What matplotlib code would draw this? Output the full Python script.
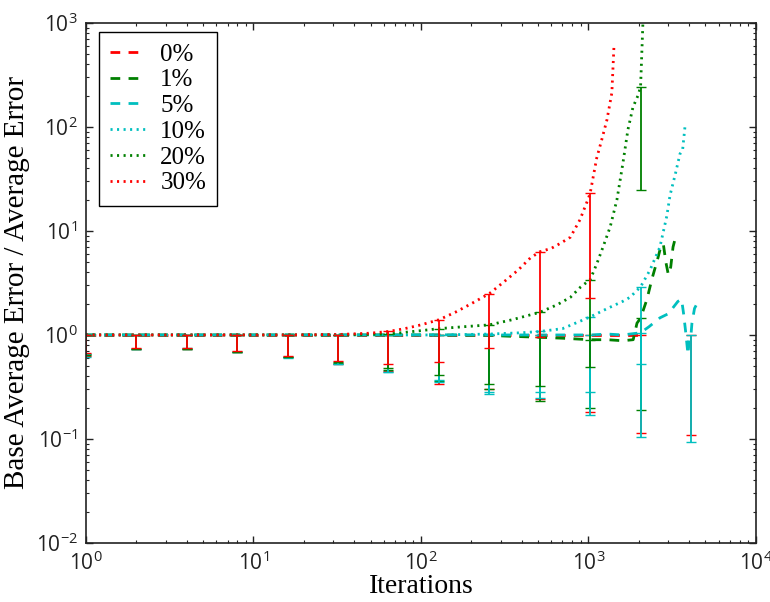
import matplotlib
matplotlib.use("Agg")
import matplotlib.pyplot as plt
from matplotlib.ticker import LogLocator, LogFormatterSciNotation, NullFormatter

plt.rcParams["font.family"] = ["Open Sans", "DejaVu Sans"]
plt.rcParams["lines.scale_dashes"] = False

# ---- data: ratio of base average error to average error, per noise level ----
labels = ["0%", "1%", "5%", "10%", "20%", "30%"]
colors = ["r", "g", "c", "c", "g", "r"]
styles = ["dashed", "dashed", "dashed", "dotted", "dotted", "dotted"]

iters_0 = [1, 2, 4, 8, 16, 32, 64, 128, 256, 512, 1024, 2048]
ratio_0 = [1, 1, 1, 1, 1, 1, 1, 1, 1, 1, 1, 1]

iters_1 = [1, 2, 4, 8, 16, 32, 64, 128, 256, 350, 512, 700, 1024, 1300, 1600,
           1850, 1950, 2048, 2235, 2400, 2600, 2700, 2800, 2900, 3000, 3100, 3200, 3300]
ratio_1 = [1, 1, 1, 1, 1, 1, 1, 1.0, 0.99, 0.97, 0.95, 0.93, 0.9, 0.9, 0.88,
           0.9, 1.3, 1.45, 2.2, 3.5, 5.5, 7.0, 7.5, 5.0, 3.8, 4.5, 7.0, 8.5]

iters_5 = [1, 2, 4, 8, 16, 32, 64, 128, 256, 512, 700, 1024, 1300, 1600, 2048,
           2300, 2672, 3000, 3420, 3600, 3700, 3800, 3930, 4000, 4096, 4150, 4300, 4450]
ratio_5 = [1, 1, 1, 1, 1, 1, 1, 1, 1, 1.0, 1.0, 1.0, 1.02, 1.0, 1.05,
           1.2, 1.46, 1.6, 2.1, 2.2, 1.6, 1.1, 0.65, 0.9, 1.0, 1.3, 1.8, 2.0]

iters_10 = [1, 2, 4, 8, 16, 32, 64, 128, 256, 400, 512, 700, 1024, 1300, 1600,
            1770, 2048, 2330, 2672, 2940, 3070, 3300, 3520, 3650, 3770]
ratio_10 = [1, 1, 1, 1, 1, 1, 1, 1.0, 1.02, 1.05, 1.08, 1.15, 1.49, 1.8, 2.1,
            2.3, 2.9, 4.2, 7.0, 14, 22, 35, 55, 60, 100]

iters_20 = [1, 2, 4, 8, 16, 32, 64, 100, 128, 180, 256, 350, 512, 650, 780, 900,
            1024, 1120, 1222, 1350, 1480, 1607, 1721, 1845, 1976, 2048, 2115]
ratio_20 = [1, 1, 1, 1, 1, 1, 1.02, 1.1, 1.15, 1.2, 1.25, 1.4, 1.65, 1.95, 2.3, 2.9,
            3.4, 4.8, 7.0, 11, 20, 45, 94, 155, 200, 243, 1000]

iters_30 = [1, 2, 4, 8, 16, 32, 50, 64, 80, 100, 128, 160, 200, 256, 310, 380, 450,
            512, 600, 680, 780, 890, 990, 1024, 1120, 1200, 1290, 1380, 1420]
ratio_30 = [1, 1, 1, 1, 1, 1.01, 1.04, 1.08, 1.15, 1.25, 1.4, 1.65, 2.0, 2.5, 3.2, 4.2, 5.5,
            6.3, 6.8, 7.6, 8.7, 12.8, 19.8, 23, 50, 75, 117, 213, 590]

# lower ends of the spread, sampled at iterations 1, 2, 4, 8, ...
low_0 = [0.63, 0.73, 0.74, 0.68, 0.61, 0.53, 0.45, 0.34, 0.30, 0.24, 0.18, 0.114, 0.11]
low_1 = [0.65, 0.74, 0.74, 0.69, 0.62, 0.54, 0.46, 0.36, 0.30, 0.23, 0.20, 0.19]
low_5 = [0.66, 0.74, 0.75, 0.69, 0.61, 0.52, 0.44, 0.35, 0.27, 0.25, 0.17, 0.105, 0.094]
low_10 = [0.62, 0.73, 0.74, 0.68, 0.60, 0.52, 0.44, 0.37, 0.28, 0.28, 0.28, 0.53]
low_20 = [0.64, 0.74, 0.74, 0.68, 0.62, 0.55, 0.48, 0.41, 0.34, 0.32, 0.49, 25]
low_30 = [0.67, 0.75, 0.75, 0.70, 0.63, 0.56, 0.53, 0.55, 0.75, 0.96, 2.27]

series = [
    (iters_0, ratio_0, low_0),
    (iters_1, ratio_1, low_1),
    (iters_5, ratio_5, low_5),
    (iters_10, ratio_10, low_10),
    (iters_20, ratio_20, low_20),
    (iters_30, ratio_30, low_30),
]

dash_patterns = {"dashed": (0, (7, 6)), "dotted": (0, (1.5, 3.2))}

fig = plt.figure(figsize=(7.7, 6.02), dpi=100)
ax = fig.add_axes([0.1117, 0.098, 0.870, 0.864])

for (xs, ys, lows), lab, col, sty in zip(series, labels, colors, styles):
    ax.plot(xs, ys, color=col, linestyle=dash_patterns[sty], linewidth=2, label=lab)

for (xs, ys, lows), col in zip(series, colors):
    ex = [2 ** k for k in range(len(lows))]
    # spread bars hang below the curve; the 0% run keeps its level past the plotted line
    ey = [ys[xs.index(v)] if v in xs else ys[-1] for v in ex]
    below = [y - lo for y, lo in zip(ey, lows)]
    ax.errorbar(ex, ey, yerr=[below, [0] * len(ex)], fmt="none", ecolor=col,
                elinewidth=1.3, capsize=3.8, capthick=1.0)

ax.set_xscale("log")
ax.set_yscale("log")
ax.set_xlim(1, 1e4)
ax.set_ylim(1e-2, 1e3)

ax.xaxis.set_major_locator(LogLocator(base=10, numticks=10))
ax.yaxis.set_major_locator(LogLocator(base=10, numticks=10))
ax.xaxis.set_minor_locator(LogLocator(base=10, subs=range(2, 10), numticks=50))
ax.yaxis.set_minor_locator(LogLocator(base=10, subs=range(2, 10), numticks=50))
ax.xaxis.set_major_formatter(LogFormatterSciNotation())
ax.yaxis.set_major_formatter(LogFormatterSciNotation())
ax.xaxis.set_minor_formatter(NullFormatter())
ax.yaxis.set_minor_formatter(NullFormatter())

ax.tick_params(which="both", direction="in", top=True, right=True, colors="#222222")
ax.tick_params(which="major", length=5, width=1, labelsize=15)
ax.tick_params(axis="x", which="major", pad=6)
ax.tick_params(axis="y", which="major", pad=6)
ax.tick_params(which="minor", length=2.5, width=0.8)
for sp in ax.spines.values():
    sp.set_linewidth(1.2)
    sp.set_color("#222222")

serif = ["Liberation Serif", "DejaVu Serif"]
ax.set_xlabel("Iterations", fontsize=20, family=serif, labelpad=-0.5)
ax.set_ylabel("Base Average Error / Average Error", fontsize=21, family=serif, labelpad=4)

leg = ax.legend(loc="upper left", bbox_to_anchor=(0.0194, 0.9827), borderaxespad=0,
                prop={"family": serif, "size": 18}, handlelength=1.4,
                labelspacing=0.13, handletextpad=0.6, borderpad=0.45,
                fancybox=False, framealpha=1)
leg.get_frame().set_edgecolor("black")
leg.get_frame().set_linewidth(1.0)

fig.savefig("out.png", dpi=100)
